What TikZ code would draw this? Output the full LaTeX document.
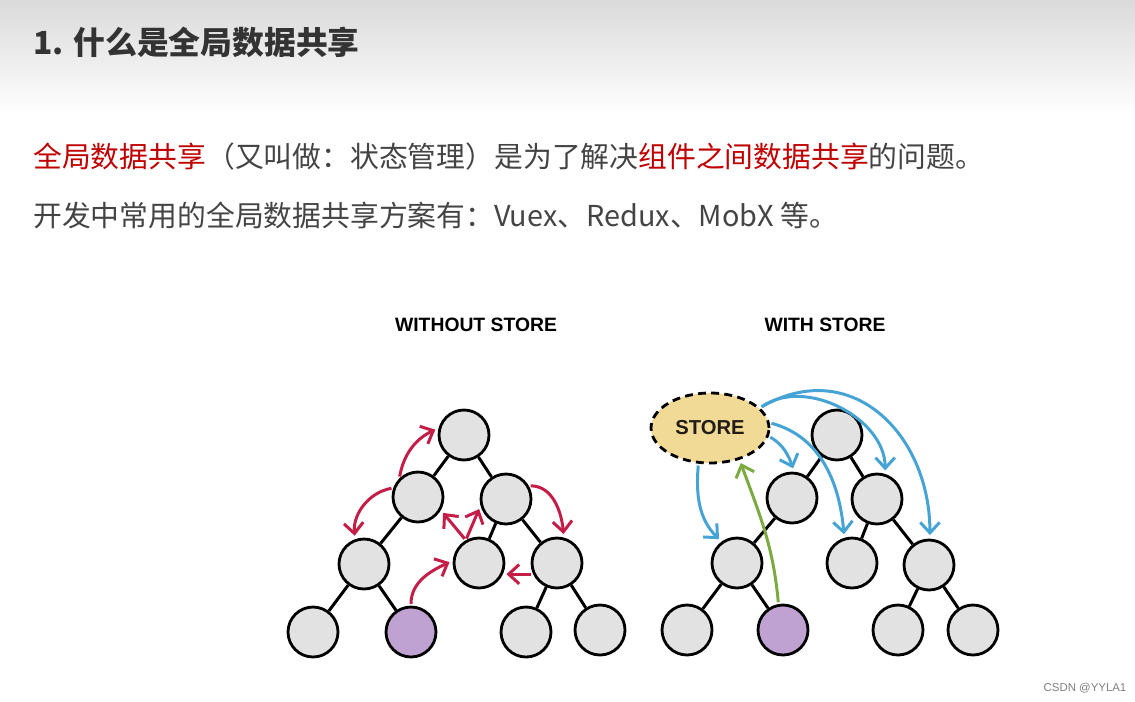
\documentclass[tikz,border=0pt]{standalone}
\usepackage{fontspec}
\setmainfont{Noto Sans CJK SC}
\newfontfamily\headfont{Liberation Sans}
\usetikzlibrary{arrows.meta, shapes.geometric, positioning}
\definecolor{headgray}{RGB}{218,218,218}
\definecolor{titlegray}{RGB}{51,51,51}
\definecolor{bodygray}{RGB}{68,68,68}
\definecolor{keyred}{RGB}{192,0,0}
\definecolor{ballgray}{RGB}{226,226,226}
\definecolor{ballpurple}{RGB}{192,162,210}
\definecolor{storetan}{RGB}{240,218,150}
\definecolor{arrred}{RGB}{196,30,72}
\definecolor{arrblue}{RGB}{70,163,214}
\definecolor{arrgreen}{RGB}{122,170,64}

\begin{document}
\begin{tikzpicture}[x=0.02cm, y=0.02cm,
    ball/.style={circle, draw, line width=1.6pt, fill=ballgray, minimum size=1cm, inner sep=0pt},
    picked/.style={ball, fill=ballpurple},
    branch/.style={line width=1.7pt},
    flow/.style={line width=1.7pt, -{Straight Barb[length=6pt, width=11pt]}, shorten <=1pt, shorten >=2pt},
    redflow/.style={flow, draw=arrred},
    blueflow/.style={flow, draw=arrblue},
    greenflow/.style={flow, draw=arrgreen},
    heading/.style={font=\headfont\bfseries\fontsize{11}{13}\selectfont}]
    \useasboundingbox (0,0) rectangle (1135,-701);
    \fill[white] (0,0) rectangle (1135,-701);
    \shade[top color=headgray, bottom color=white] (0,0) rectangle (1135,-115);

    \node[anchor=west, inner sep=0pt, text=titlegray, font=\fontsize{18.1}{22}\selectfont\bfseries] (title) at (33,-42) {1. 什么是全局数据共享};
    \node[anchor=west, inner sep=0pt, text=bodygray, font=\fontsize{16.4}{20}\selectfont] (intro) at (33,-157)
        {\textcolor{keyred}{全局数据共享}（又叫做：状态管理）是为了解决\textcolor{keyred}{组件之间数据共享}的问题。};
    \node[anchor=west, inner sep=0pt, text=bodygray, font=\fontsize{16.4}{20}\selectfont] (tools) at (33,-215)
        {开发中常用的全局数据共享方案有：Vuex、Redux、MobX 等。};

    \node[heading] (without) at (476,-325) {WITHOUT STORE};
    \node[heading] (with) at (825,-325) {WITH STORE};

    % without store
    \node[ball] (lroot) at (464,-435) {};
    \node[ball] (la) at (418,-497) {};
    \node[ball] (lb) at (506,-499) {};
    \node[ball] (lc) at (364,-564) {};
    \node[ball] (ld) at (479,-563) {};
    \node[ball] (le) at (557,-563) {};
    \node[ball] (lf) at (313,-632) {};
    \node[picked] (lg) at (411,-632) {};
    \node[ball] (lh) at (526,-632) {};
    \node[ball] (li) at (600,-630) {};

    \draw[branch] (lroot) -- (la);
    \draw[branch] (lroot) -- (lb);
    \draw[branch] (la) -- (lc);
    \draw[branch] (lb) -- (ld);
    \draw[branch] (lb) -- (le);
    \draw[branch] (lc) -- (lf);
    \draw[branch] (lc) -- (lg);
    \draw[branch] (le) -- (lh);
    \draw[branch] (le) -- (li);

    \draw[redflow] (la.135) to[out=80, in=205] (lroot.165);
    \draw[redflow] (la.160) to[out=190, in=95] (lc.110);
    \draw[redflow] (lb.30) to[out=0, in=95] (le.75);
    \draw[redflow] (ld.120) -- (la.-30);
    \draw[redflow] (ld.120) -- (lb.195);
    \draw[redflow] (lg.north) to[out=90, in=205] (ld.175);
    \draw[redflow] (le.205) -- (ld.-25);

    % with store
    \node[ellipse, draw, dashed, dash pattern=on 4.5pt off 3pt, line width=1.6pt, fill=storetan,
        minimum width=2.36cm, minimum height=1.4cm, inner sep=0pt,
        text={rgb,255:red,34;green,28;blue,22}, font=\headfont\bfseries\fontsize{11.5}{13}\selectfont] (store) at (710,-428) {STORE};

    \node[ball] (rroot) at (837,-435) {};
    \node[ball] (ra) at (792,-498) {};
    \node[ball] (rb) at (877,-499) {};
    \node[ball] (rc) at (737,-563) {};
    \node[ball] (rd) at (852,-563) {};
    \node[ball] (re) at (929,-565) {};
    \node[ball] (rf) at (687,-630) {};
    \node[picked] (rg) at (783,-630) {};
    \node[ball] (rh) at (898,-630) {};
    \node[ball] (ri) at (973,-630) {};

    \draw[branch] (rroot) -- (ra);
    \draw[branch] (rroot) -- (rb);
    \draw[branch] (ra) -- (rc);
    \draw[branch] (rb) -- (rd);
    \draw[branch] (rb) -- (re);
    \draw[branch] (rc) -- (rf);
    \draw[branch] (rc) -- (rg);
    \draw[branch] (re) -- (rh);
    \draw[branch] (re) -- (ri);

    \draw[blueflow] (store.252) to[out=-95, in=135] (rc.126);
    \draw[blueflow] (store.-8) to[out=-30, in=110] (ra.85);
    \draw[blueflow] (store.5) to[out=-15, in=95] (rd.107);
    \draw[blueflow] (store.22) to[out=35, in=90] (rb.72);
    \draw[blueflow] (store.22) to[out=30, in=90, looseness=1.25] (re.88);
    \draw[greenflow] (rg.100) to[out=95, in=-70] (store.313);

    \node[font=\headfont\fontsize{6.5}{8}\selectfont, text=gray] (mark) at (1085,-688) {CSDN @YYLA1};
\end{tikzpicture}
\end{document}
